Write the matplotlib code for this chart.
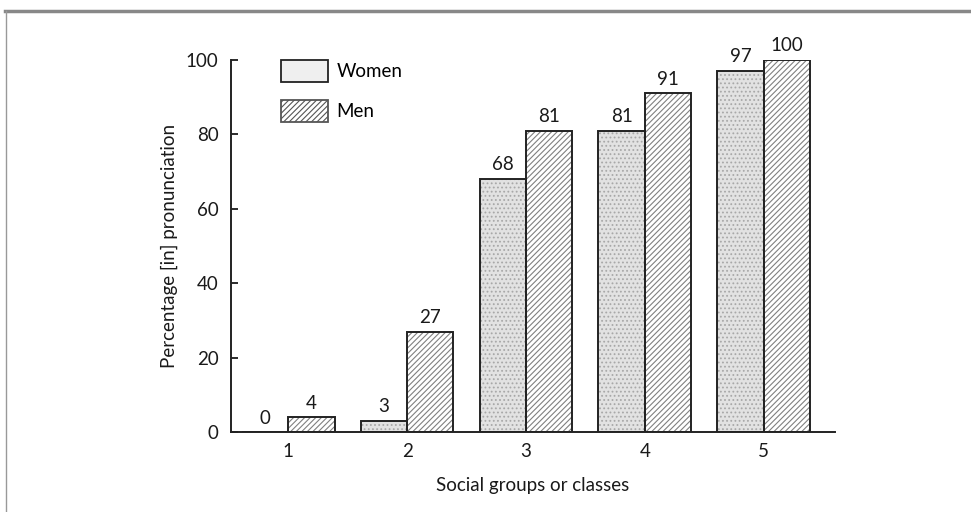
import matplotlib
matplotlib.use("Agg")
import matplotlib.pyplot as plt
from matplotlib.lines import Line2D
from matplotlib.patches import Patch
import numpy as np

groups = ["1", "2", "3", "4", "5"]
women = [0, 3, 68, 81, 97]
men = [4, 27, 81, 91, 100]

plt.rcParams['font.family'] = ['Lato', 'DejaVu Sans']
plt.rcParams['hatch.linewidth'] = 0.8

fig = plt.figure(figsize=(9.71, 5.12), dpi=100)
ax = fig.add_axes([0.238, 0.156, 0.622, 0.727])

x = np.arange(1, len(groups) + 1)
w = 0.39
FS = 13.5
TXT = '#1a1a1a'

# women: stippled light fill
ax.bar(x - w / 2, women, width=w, facecolor='#e2e2e2', edgecolor='#a8a8a8',
       hatch='....', linewidth=0, zorder=2)
ax.bar(x - w / 2, women, width=w, facecolor='none', edgecolor='#222222',
       linewidth=1.4, zorder=3)
# men: diagonal hatch
ax.bar(x + w / 2, men, width=w, facecolor='white', edgecolor='#808080',
       hatch='//////', linewidth=0, zorder=2)
ax.bar(x + w / 2, men, width=w, facecolor='none', edgecolor='#222222',
       linewidth=1.4, zorder=3)

for xi, v in zip(x - w / 2, women):
    ax.text(xi, v + 1.5, str(v), ha='center', va='bottom', fontsize=FS, color=TXT)
for xi, v in zip(x + w / 2, men):
    ax.text(xi, v + 1.5, str(v), ha='center', va='bottom', fontsize=FS, color=TXT)

ax.set_xlim(0.52, 5.6)
ax.set_ylim(0, 100)
ax.set_xticks(x)
ax.set_xticklabels(groups)
ax.set_yticks([0, 20, 40, 60, 80, 100])
ax.tick_params(axis='y', direction='in', length=5, width=1.3, labelsize=FS, pad=9, colors=TXT)
ax.tick_params(axis='x', length=0, labelsize=FS, pad=8, colors=TXT)
for s in ['top', 'right']:
    ax.spines[s].set_visible(False)
for s in ['left', 'bottom']:
    ax.spines[s].set_linewidth(1.4)
    ax.spines[s].set_color('#222222')

ax.set_ylabel('Percentage [in] pronunciation', fontsize=FS, labelpad=6, color=TXT)
ax.set_xlabel('Social groups or classes', fontsize=FS, labelpad=12, color=TXT)

handles = [Patch(facecolor='#efefef', edgecolor='#222222', linewidth=1.3),
           Patch(facecolor='white', edgecolor='#555555', hatch='//////', linewidth=1.3)]
leg = ax.legend(handles, ['Women', 'Men'], loc='upper left', bbox_to_anchor=(0.055, 1.045),
                frameon=False, fontsize=FS, handlelength=2.5, handleheight=1.4,
                labelspacing=1.0, handletextpad=0.45)

# outer frame lines
fig.add_artist(Line2D([0.005, 1.0], [0.979, 0.979], transform=fig.transFigure,
                      color='#888888', linewidth=2.5))
fig.add_artist(Line2D([0.006, 0.006], [0.0, 0.979], transform=fig.transFigure,
                      color='#999999', linewidth=1.0))

fig.savefig('out.png', dpi=100)
